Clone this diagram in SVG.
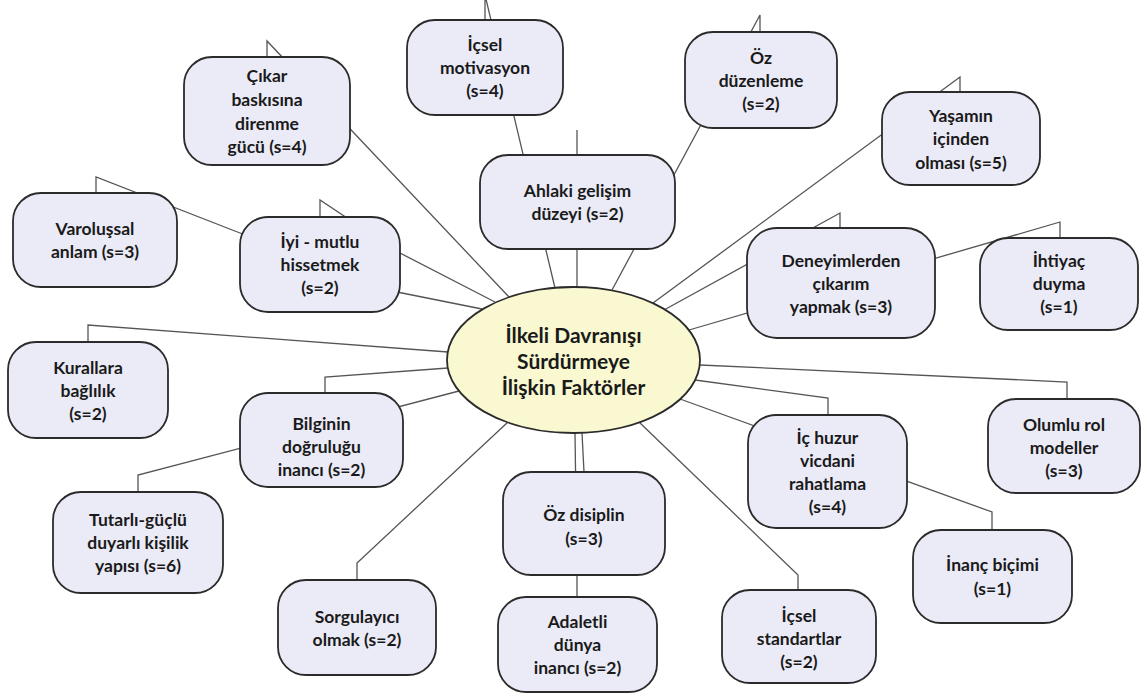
<svg xmlns="http://www.w3.org/2000/svg" width="1147" height="696" viewBox="0 0 1147 696">
<style>
.c{fill:none;stroke:#555;stroke-width:1.3}
.n rect{fill:#ebebf7;stroke:#2b2b2b;stroke-width:1.8}
.t{font-family:Lato,"Open Sans","Liberation Sans",sans-serif;font-weight:700;font-size:17.5px;fill:#1a1a1a;text-anchor:middle}
.h{font-family:Lato,"Open Sans","Liberation Sans",sans-serif;font-weight:700;font-size:21px;fill:#1a1a1a;text-anchor:middle}
</style>
<rect width="1147" height="696" fill="#fff"/>
<g id="connectors">
<path class="c" d="M267,57V41L509,297"/>
<path class="c" d="M96,193V177L240,233L397,292L482,309"/>
<path class="c" d="M320,217V200L398,252L495,302"/>
<path class="c" d="M485,20V-5L555,288"/>
<path class="c" d="M577,287V130"/>
<path class="c" d="M760,32V15L612,290"/>
<path class="c" d="M960,92V77L653,303"/>
<path class="c" d="M840,228V213L664,310"/>
<path class="c" d="M1060,238V222L689,330"/>
<path class="c" d="M88,342V325L448,352"/>
<path class="c" d="M325,393V377L448,368"/>
<path class="c" d="M138,492V475L459,391"/>
<path class="c" d="M357,580V563L508,422"/>
<path class="c" d="M582,433L584,472"/>
<path class="c" d="M577,597V575L575,433"/>
<path class="c" d="M798,590V575L639,422"/>
<path class="c" d="M992,530V512L680,399"/>
<path class="c" d="M828,415V398L695,380"/>
<path class="c" d="M1067,399V382L700,365"/>
</g>
<g id="center">
<ellipse cx="573.5" cy="360" rx="126.5" ry="73" fill="#f9f8d0" stroke="#2b2b2b" stroke-width="1.8"/>
<text class="h" x="573.5" y="343">İlkeli Davranışı</text>
<text class="h" x="573.5" y="369">Sürdürmeye</text>
<text class="h" x="573.5" y="395">İlişkin Faktörler</text>
</g>
<g id="n-cikar" class="n"><rect x="184" y="57" width="166" height="108" rx="28"/>
<text class="t" x="267" y="82">Çıkar</text><text class="t" x="267" y="106">baskısına</text><text class="t" x="267" y="130">direnme</text><text class="t" x="267" y="153">gücü (s=4)</text></g>
<g id="n-icsel-mot" class="n"><rect x="407" y="20" width="156" height="95" rx="28"/>
<text class="t" x="485" y="51">İçsel</text><text class="t" x="485" y="74">motivasyon</text><text class="t" x="485" y="97">(s=4)</text></g>
<g id="n-oz-duz" class="n"><rect x="685" y="32" width="152" height="96" rx="28"/>
<text class="t" x="761" y="64">Öz</text><text class="t" x="761" y="87">düzenleme</text><text class="t" x="761" y="110">(s=2)</text></g>
<g id="n-yasamin" class="n"><rect x="882" y="92" width="158" height="93" rx="28"/>
<text class="t" x="961" y="122">Yaşamın</text><text class="t" x="961" y="145">içinden</text><text class="t" x="961" y="169">olması (s=5)</text></g>
<g id="n-varolussal" class="n"><rect x="13" y="193" width="164" height="94" rx="28"/>
<text class="t" x="95" y="235">Varoluşsal</text><text class="t" x="95" y="258">anlam (s=3)</text></g>
<g id="n-iyi" class="n"><rect x="240" y="217" width="160" height="95" rx="28"/>
<text class="t" x="320" y="248">İyi - mutlu</text><text class="t" x="320" y="271">hissetmek</text><text class="t" x="320" y="294">(s=2)</text></g>
<g id="n-ahlaki" class="n"><rect x="480" y="155" width="195" height="94" rx="28"/>
<text class="t" x="577.5" y="197">Ahlaki gelişim</text><text class="t" x="577.5" y="220">düzeyi (s=2)</text></g>
<g id="n-deneyim" class="n"><rect x="747" y="228" width="188" height="110" rx="30"/>
<text class="t" x="841" y="267">Deneyimlerden</text><text class="t" x="841" y="290">çıkarım</text><text class="t" x="841" y="313">yapmak (s=3)</text></g>
<g id="n-ihtiyac" class="n"><rect x="980" y="238" width="158" height="92" rx="28"/>
<text class="t" x="1059" y="267">İhtiyaç</text><text class="t" x="1059" y="290">duyma</text><text class="t" x="1059" y="313">(s=1)</text></g>
<g id="n-kurallara" class="n"><rect x="8" y="342" width="160" height="96" rx="28"/>
<text class="t" x="88" y="374">Kurallara</text><text class="t" x="88" y="397">bağlılık</text><text class="t" x="88" y="420">(s=2)</text></g>
<g id="n-bilginin" class="n"><rect x="240" y="393" width="163" height="94" rx="28"/>
<text class="t" x="321.5" y="430">Bilginin</text><text class="t" x="321.5" y="453">doğruluğu</text><text class="t" x="321.5" y="476">inancı (s=2)</text></g>
<g id="n-olumlu" class="n"><rect x="988" y="399" width="152" height="94" rx="28"/>
<text class="t" x="1064" y="431">Olumlu rol</text><text class="t" x="1064" y="454">modeller</text><text class="t" x="1064" y="477">(s=3)</text></g>
<g id="n-tutarli" class="n"><rect x="53" y="492" width="170" height="101" rx="28"/>
<text class="t" x="138" y="526">Tutarlı-güçlü</text><text class="t" x="138" y="549">duyarlı kişilik</text><text class="t" x="138" y="572">yapısı (s=6)</text></g>
<g id="n-ichuzur" class="n"><rect x="748" y="415" width="159" height="113" rx="28"/>
<text class="t" x="827.5" y="444">İç huzur</text><text class="t" x="827.5" y="467">vicdani</text><text class="t" x="827.5" y="490">rahatlama</text><text class="t" x="827.5" y="513">(s=4)</text></g>
<g id="n-ozdis" class="n"><rect x="503" y="472" width="162" height="103" rx="28"/>
<text class="t" x="584" y="521">Öz disiplin</text><text class="t" x="584" y="545">(s=3)</text></g>
<g id="n-inanc" class="n"><rect x="913" y="530" width="159" height="93" rx="28"/>
<text class="t" x="992.5" y="571">İnanç biçimi</text><text class="t" x="992.5" y="595">(s=1)</text></g>
<g id="n-sorgu" class="n"><rect x="278" y="580" width="158" height="95" rx="28"/>
<text class="t" x="357" y="623">Sorgulayıcı</text><text class="t" x="357" y="646">olmak (s=2)</text></g>
<g id="n-adaletli" class="n"><rect x="498" y="597" width="159" height="95" rx="28"/>
<text class="t" x="577.5" y="628">Adaletli</text><text class="t" x="577.5" y="651">dünya</text><text class="t" x="577.5" y="674">inancı (s=2)</text></g>
<g id="n-icsel-std" class="n"><rect x="722" y="590" width="154" height="93" rx="28"/>
<text class="t" x="799" y="622">İçsel</text><text class="t" x="799" y="645">standartlar</text><text class="t" x="799" y="668">(s=2)</text></g>
</svg>
